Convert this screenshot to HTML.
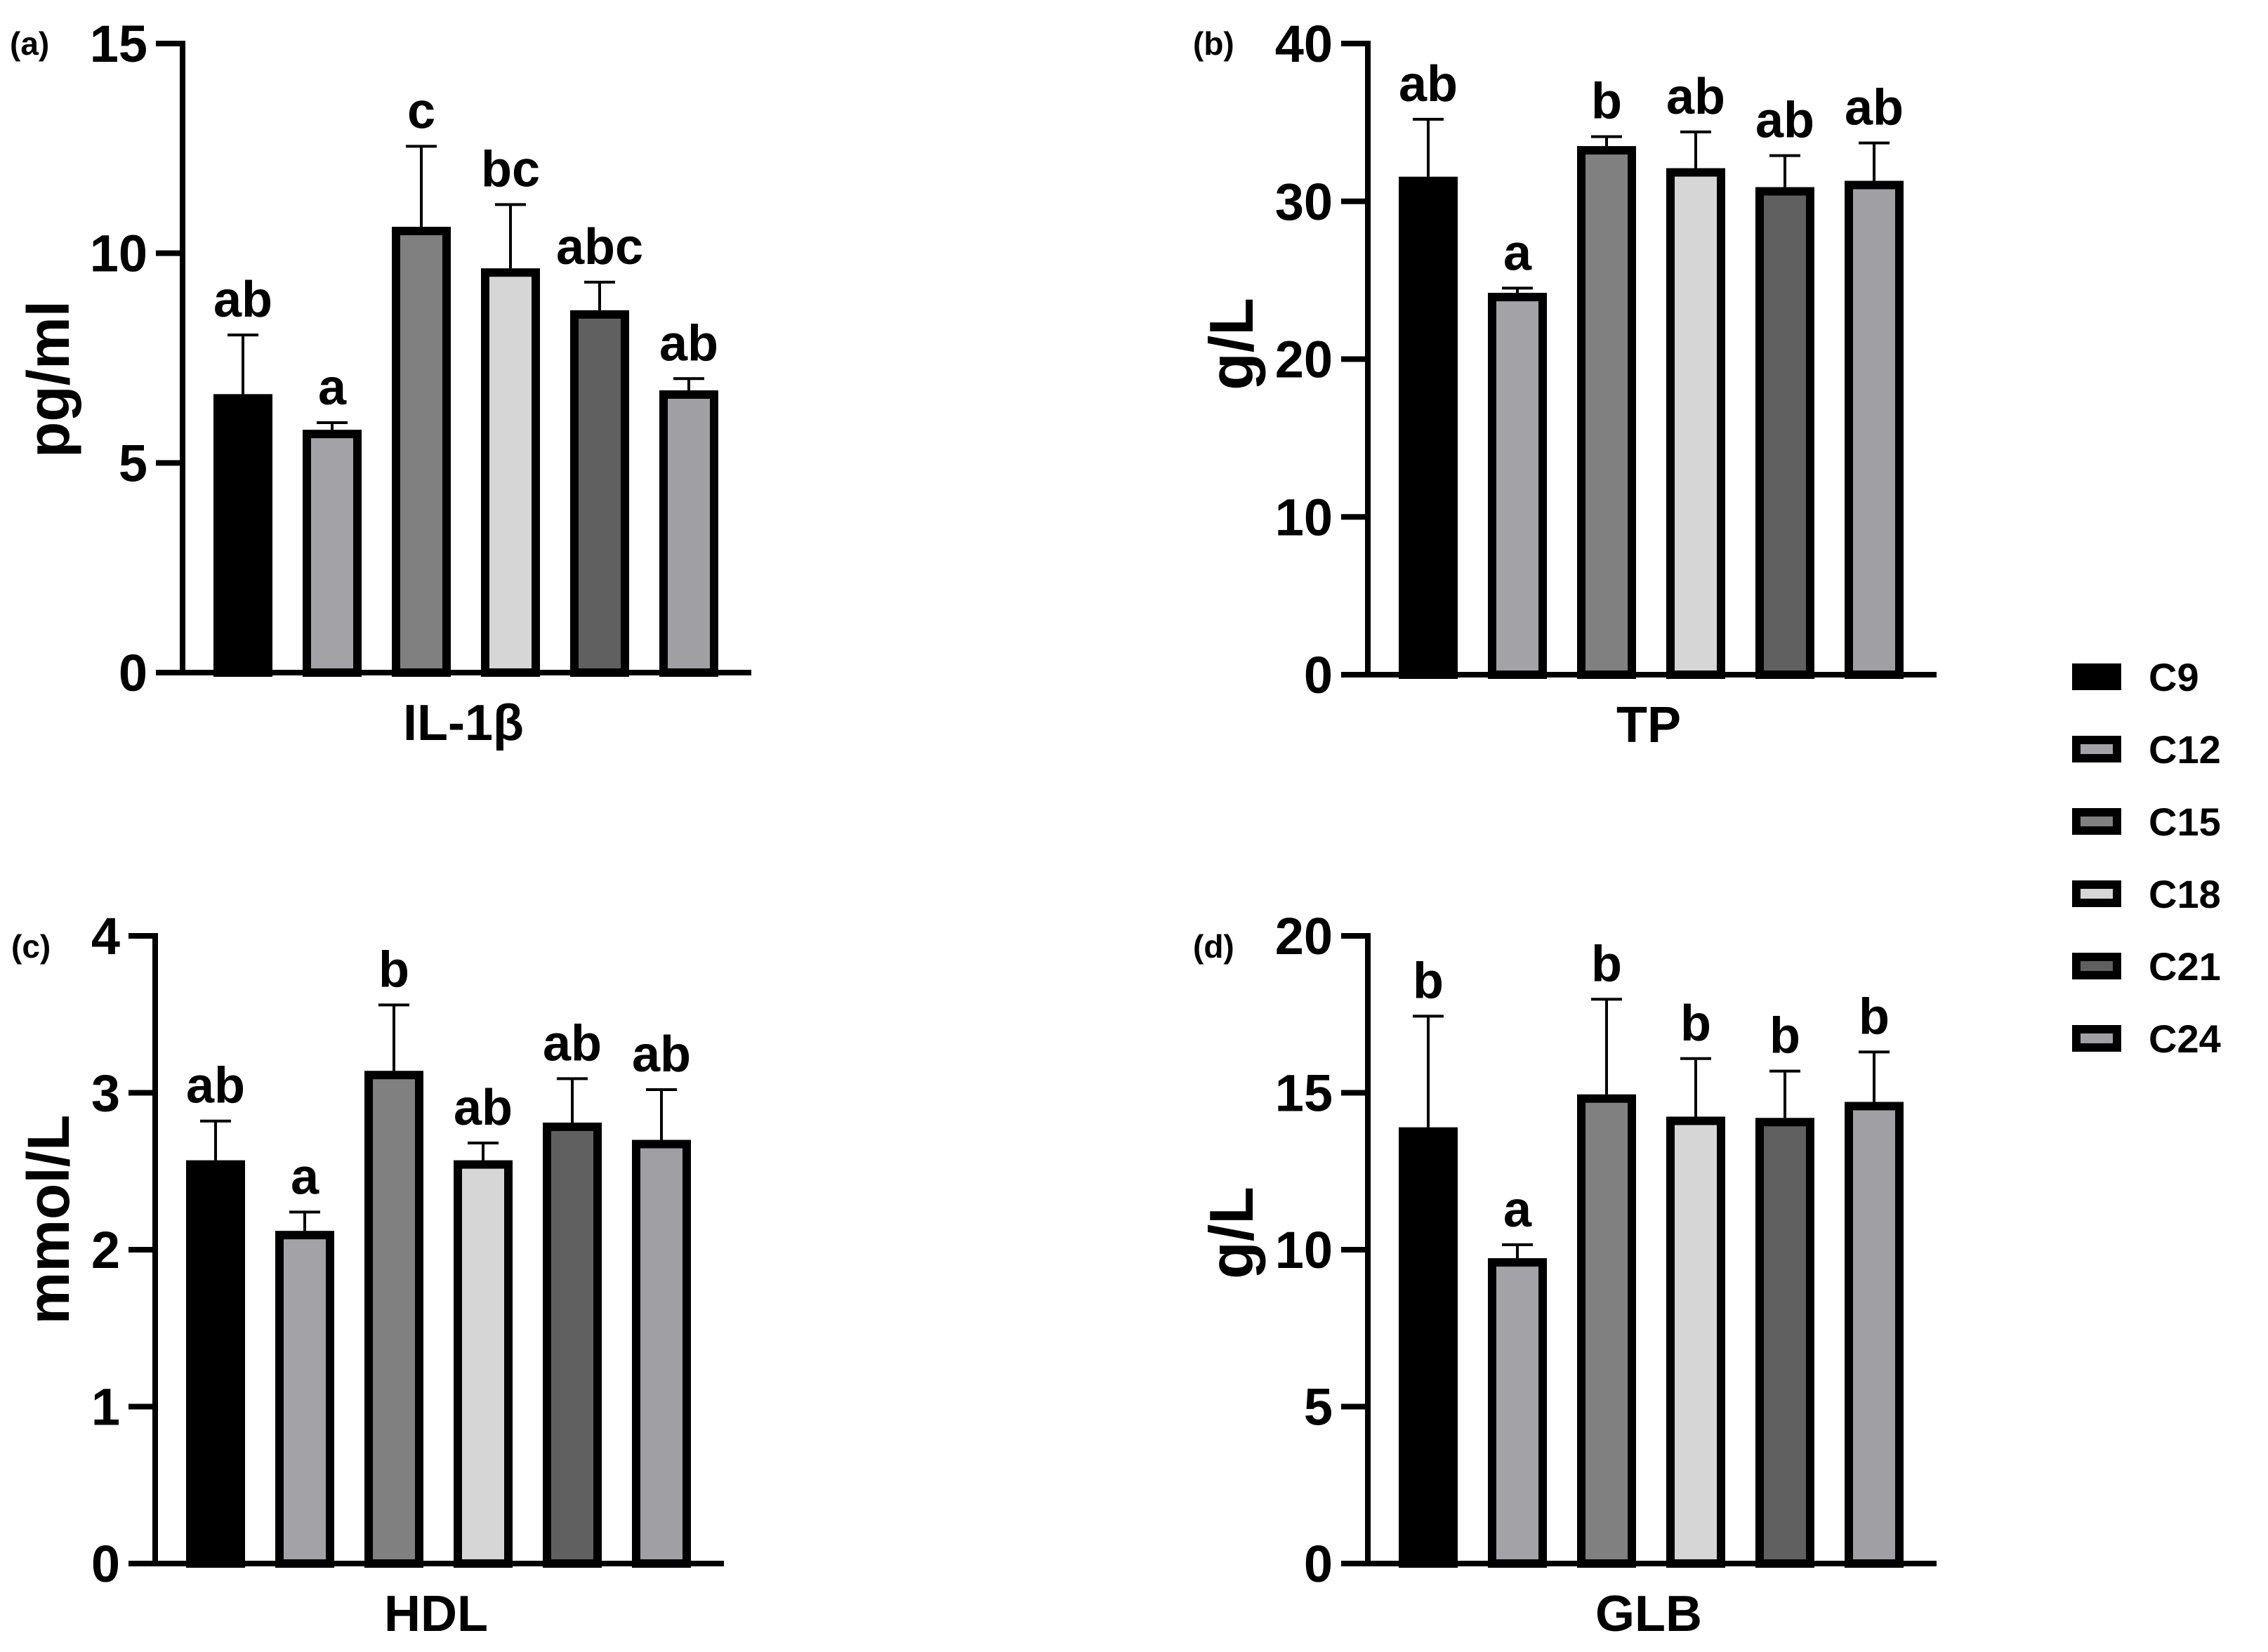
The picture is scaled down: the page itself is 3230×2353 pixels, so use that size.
<!DOCTYPE html>
<html><head><meta charset="utf-8"><style>
html,body{margin:0;padding:0;background:#fff;}
svg{display:block;font-family:"Liberation Sans",Arial,sans-serif;font-weight:bold;}
</style></head><body>
<svg id="fig" xmlns="http://www.w3.org/2000/svg" width="3230" height="2353" viewBox="0 0 3230 2353"></svg>
<script>
const groups = ["C9","C12","C15","C18","C21","C24"];
const fills = ["#000000","#a3a3a7","#808080","#d6d6d6","#606060","#a0a0a4"];
// panel a: IL-1β
const ilMeans = [6.64,5.79,10.63,9.64,8.64,6.73];
const ilErr = [8.05,5.96,12.55,11.16,9.31,7.01];
const ilLetters = ["ab","a","c","bc","abc","ab"];
const ilTicks = [0,5,10,15];
// panel b: TP
const tpMeans = [31.56,24.2,33.5,32.1,30.9,31.3];
const tpErr = [35.2,24.5,34.1,34.4,32.9,33.7];
const tpLetters = ["ab","a","b","ab","ab","ab"];
const tpTicks = [0,10,20,30,40];
// panel c: HDL
const hdlMeans = [2.57,2.12,3.14,2.57,2.81,2.70];
const hdlErr = [2.82,2.24,3.56,2.68,3.09,3.02];
const hdlLetters = ["ab","a","b","ab","ab","ab"];
const hdlTicks = [0,1,2,3,4];
// panel d: GLB
const glbMeans = [13.9,9.73,14.95,14.24,14.2,14.71];
const glbErr = [17.44,10.16,17.98,16.09,15.69,16.3];
const glbLetters = ["b","a","b","b","b","b"];
const glbTicks = [0,5,10,15,20];

const NS="http://www.w3.org/2000/svg";
const svg=document.getElementById('fig');
function mk(tag,attrs,parent){const e=document.createElementNS(NS,tag);for(const k in attrs)e.setAttribute(k,attrs[k]);(parent||svg).appendChild(e);return e;}

function panel(o){
  const g=mk('g',{});
  
  
  const max=o.ticks[o.ticks.length-1];
  const y=v=>o.zero-(o.zero-o.top)*v/max;
  const ya=mk('line',{x1:o.ax,y1:o.top-4,x2:o.ax,y2:o.zero+4,stroke:'#000','stroke-width':8},g);
  
  
  const xa=mk('line',{x1:o.ax-38,y1:o.zero,x2:o.ax+810,y2:o.zero,stroke:'#000','stroke-width':8},g);
  
  
  o.ticks.forEach(t=>{
    const tl=mk('line',{x1:o.ax-38,y1:y(t),x2:o.ax,y2:y(t),stroke:'#000','stroke-width':8},g);
    
    
    const tx=mk('text',{x:o.ax-50,y:y(t)+26,'text-anchor':'end','font-size':74},g);
    tx.textContent=t;
    
    
  });
  o.means.forEach((m,i)=>{
    const x0=o.ax+44+i*127;
    const cx=x0+42;
    const eb=mk('line',{x1:cx,y1:y(o.err[i]),x2:cx,y2:y(m),stroke:'#000','stroke-width':4},g);
    
    
    const ec=mk('line',{x1:cx-22,y1:y(o.err[i]),x2:cx+22,y2:y(o.err[i]),stroke:'#000','stroke-width':4},g);
    
    
    const r=mk('rect',{x:x0+6,y:y(m)+6,width:72,height:o.zero-y(m)-6,fill:fills[i],stroke:'#000','stroke-width':12},g);
    
    
    const lt=mk('text',{x:cx,y:y(o.err[i])-26,'text-anchor':'middle','font-size':72},g);
    lt.textContent=o.letters[i];
    
    
  });
  const xt=mk('text',{x:o.ax+400,y:o.zero+96,'text-anchor':'middle','font-size':72},g);
  xt.textContent=o.xt;
  
  
  const yt=mk('text',{x:0,y:0,'text-anchor':'middle','font-size':o.yfs,transform:`translate(${o.ytx},${o.yty}) rotate(-90)`},g);
  yt.textContent=o.yt;
  
  
  const pl=mk('text',{x:o.plx,y:o.ply,'font-size':46},g);
  pl.textContent='('+o.id+')';
  
  
}
panel({id:'a',ax:260,top:62,zero:958,ticks:ilTicks,means:ilMeans,err:ilErr,letters:ilLetters,xt:'IL-1β',yt:'pg/ml',yfs:84,ytx:98,yty:540,plx:14,ply:78});
panel({id:'b',ax:1948,top:62,zero:961,ticks:tpTicks,means:tpMeans,err:tpErr,letters:tpLetters,xt:'TP',yt:'g/L',yfs:88,ytx:1784,yty:490,plx:1699,ply:78});
panel({id:'c',ax:221,top:1333,zero:2227,ticks:hdlTicks,means:hdlMeans,err:hdlErr,letters:hdlLetters,xt:'HDL',yt:'mmol/L',yfs:84,ytx:98,yty:1737,plx:16,ply:1364});
panel({id:'d',ax:1948,top:1333,zero:2227,ticks:glbTicks,means:glbMeans,err:glbErr,letters:glbLetters,xt:'GLB',yt:'g/L',yfs:88,ytx:1784,yty:1756,plx:1699,ply:1364});

// legend
const lg=mk('g',{});


groups.forEach((gname,i)=>{
  const cy=964+i*103;
  const sw=mk('rect',{x:2957,y:cy-13,width:58,height:26,fill:fills[i],stroke:'#000','stroke-width':12},lg);
  
  
  const t=mk('text',{x:3060,y:cy+20,'font-size':56},lg);
  t.textContent=gname;
  
  
});
</script>
</body></html>
